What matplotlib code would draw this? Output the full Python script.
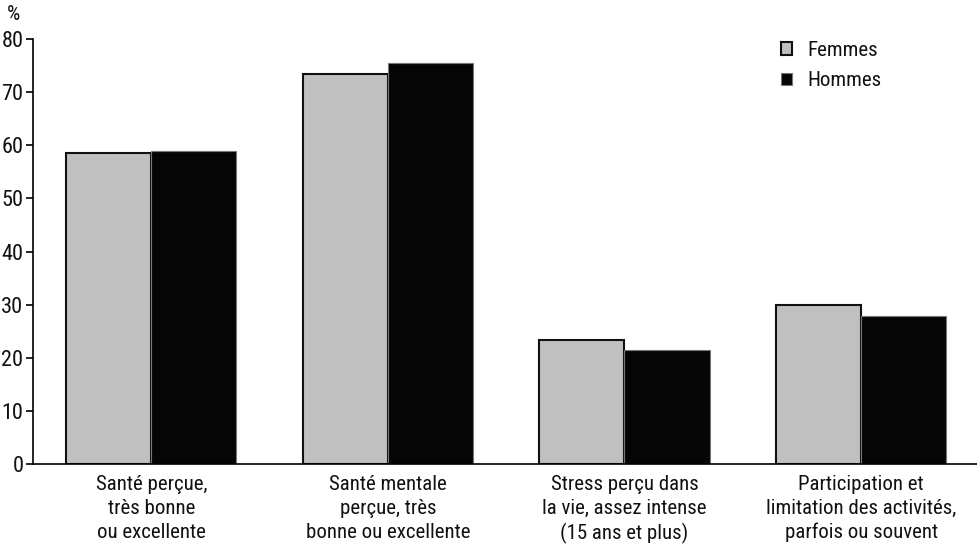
import matplotlib
matplotlib.use("Agg")
import matplotlib.pyplot as plt
import numpy as np

categories = ["Santé perçue,\ntrès bonne\nou excellente",
              "Santé mentale\nperçue, très\nbonne ou excellente",
              "Stress perçu dans\nla vie, assez intense\n(15 ans et plus)",
              "Participation et\nlimitation des activités,\nparfois ou souvent"]
femmes = [58.6, 73.4, 23.4, 30.0]
hommes = [59.0, 75.4, 21.4, 27.9]
yticks = [0, 10, 20, 30, 40, 50, 60, 70, 80]

import logging
logging.getLogger('matplotlib.font_manager').setLevel(logging.ERROR)
plt.rcParams['font.family'] = ['Roboto Condensed', 'Archivo Narrow', 'Barlow Semi Condensed', 'DejaVu Sans']

fig = plt.figure(figsize=(9.77, 5.47), dpi=100)
ax = fig.add_axes([33/977, 1-464/547, 1-33/977, (464-39)/547])

x = np.arange(len(categories))
w = 0.36
ax.bar(x - w/2, femmes, w, color="#c0c0c0", edgecolor="#111111", linewidth=1.5, label="Femmes", zorder=2)
ax.bar(x + w/2, hommes, w, color="#050505", edgecolor="#777777", linewidth=0.8, label="Hommes", zorder=2)

ax.set_xlim(-0.5, 3.49)
ax.set_ylim(0, 80)
ax.set_yticks(yticks)
ax.set_yticklabels([str(t) for t in yticks], fontsize=16, color="#111111")
ax.set_xticks(x)
ax.set_xticklabels(categories, fontsize=15, linespacing=1.32, color="#111111")
ax.tick_params(axis='x', length=0, pad=8)
ax.tick_params(axis='y', length=5, width=1.2, direction='out', pad=2)
for s in ['top', 'right']:
    ax.spines[s].set_visible(False)
ax.spines['left'].set_linewidth(1.2)
ax.spines['bottom'].set_linewidth(1.2)

fig.text(7/977, 1-14/547, "%", fontsize=15, va='center', ha='left', color="#111111")

leg = ax.legend(loc='upper left', bbox_to_anchor=(781/977, 1-41/547), bbox_transform=fig.transFigure,
                frameon=False, fontsize=15, handlelength=0.55, handleheight=0.55,
                handletextpad=0.7, labelspacing=0.55, borderpad=0, borderaxespad=0)
for t in leg.get_texts():
    t.set_color("#111111")

fig.savefig("out.png", dpi=100)
